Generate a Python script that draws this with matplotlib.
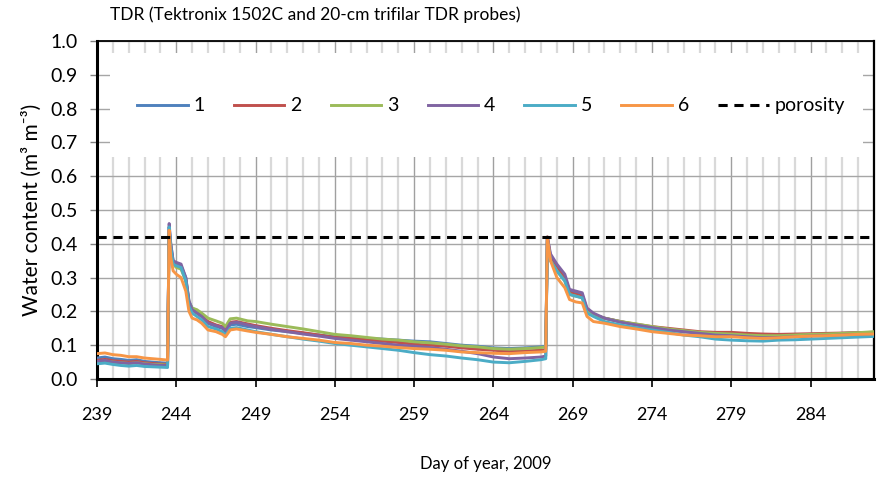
import matplotlib
matplotlib.use("Agg")
import matplotlib.pyplot as plt
from matplotlib.patches import Rectangle
from matplotlib.ticker import MultipleLocator, FormatStrFormatter

plt.rcParams['font.family'] = ['Lato', 'DejaVu Sans']

# day of year (same sampling for all probes)
day = [239.0, 239.5, 240.0, 240.5, 241.0, 241.5, 242.0, 242.5, 243.0, 243.45,
       243.55, 243.65, 243.8, 244.0, 244.3, 244.6, 244.8, 245.0, 245.3, 245.6,
       246.0, 246.5, 246.9, 247.1, 247.4, 247.8, 248.5, 249.0, 250.0, 251.0,
       252.0, 253.0, 254.0, 255.0, 256.0, 257.0, 258.0, 259.0, 260.0, 261.0,
       262.0, 263.0, 264.0, 265.0, 266.0, 267.0, 267.3,
       267.4, 267.6, 268.0, 268.5, 268.8, 269.2, 269.6, 269.9, 270.3, 271.0,
       272.0, 273.0, 274.0, 275.0, 276.0, 277.0, 278.0, 279.0, 280.0, 281.0,
       282.0, 283.0, 284.0, 285.0, 286.0, 287.0, 288.0]

probe1 = [.062, .065, .060, .058, .055, .057, .052, .050, .048, .047,
          .45, .40, .35, .34, .335, .30, .23, .21, .20, .19,
          .165, .155, .15, .14, .16, .162, .155, .152, .145, .14,
          .135, .13, .125, .123, .12, .118, .115, .112, .11, .105,
          .10, .097, .092, .09, .092, .095, .097,
          .42, .36, .33, .30, .26, .255, .25, .205, .19, .18,
          .17, .16, .152, .145, .14, .135, .133, .13, .13, .128,
          .128, .13, .132, .133, .135, .137, .138]

probe2 = [.055, .058, .054, .052, .050, .052, .048, .046, .044, .043,
          .44, .39, .345, .335, .33, .295, .225, .205, .195, .185,
          .17, .16, .155, .145, .168, .17, .163, .158, .15, .143,
          .137, .13, .123, .12, .116, .112, .108, .103, .10, .097,
          .092, .088, .085, .082, .083, .085, .087,
          .42, .36, .33, .30, .255, .25, .245, .20, .19, .18,
          .17, .162, .155, .15, .145, .14, .138, .138, .135, .133,
          .132, .133, .134, .135, .136, .137, .138]

probe3 = [.050, .053, .050, .048, .046, .048, .045, .043, .042, .041,
          .43, .38, .34, .33, .325, .29, .225, .21, .205, .195,
          .18, .172, .165, .155, .178, .18, .172, .17, .162, .155,
          .148, .14, .132, .128, .123, .118, .115, .11, .107, .103,
          .098, .095, .09, .088, .09, .093, .095,
          .41, .35, .32, .29, .25, .245, .24, .20, .19, .18,
          .17, .163, .155, .148, .143, .138, .135, .133, .13, .128,
          .128, .13, .132, .133, .135, .137, .14]

probe4 = [.052, .055, .050, .048, .046, .048, .044, .042, .040, .040,
          .46, .40, .35, .345, .34, .30, .23, .205, .195, .185,
          .165, .158, .152, .142, .165, .168, .16, .155, .147, .14,
          .133, .127, .12, .115, .11, .105, .10, .097, .093, .088,
          .082, .075, .065, .06, .062, .065, .068,
          .42, .37, .34, .31, .265, .26, .255, .21, .195, .18,
          .168, .16, .152, .145, .14, .135, .13, .128, .125, .122,
          .123, .125, .127, .128, .13, .131, .132]

probe5 = [.045, .047, .043, .040, .038, .040, .037, .036, .035, .034,
          .45, .39, .34, .335, .33, .29, .215, .195, .185, .175,
          .155, .148, .14, .13, .15, .152, .145, .14, .132, .125,
          .118, .112, .105, .10, .095, .09, .085, .078, .072, .068,
          .062, .057, .05, .048, .052, .057, .06,
          .41, .35, .32, .29, .25, .245, .24, .195, .185, .17,
          .16, .152, .145, .138, .13, .125, .118, .115, .113, .112,
          .115, .116, .118, .12, .122, .124, .126]

probe6 = [.075, .077, .072, .070, .066, .066, .062, .060, .058, .056,
          .44, .36, .32, .31, .30, .26, .20, .18, .175, .165,
          .145, .14, .132, .125, .145, .148, .142, .138, .132, .125,
          .12, .115, .108, .105, .10, .097, .093, .09, .088, .085,
          .08, .078, .076, .075, .078, .08, .082,
          .42, .35, .30, .27, .235, .228, .225, .185, .17, .165,
          .155, .148, .14, .135, .13, .128, .125, .125, .122, .12,
          .122, .125, .127, .128, .13, .132, .133]

probes = [probe1, probe2, probe3, probe4, probe5, probe6]
labels = ["1", "2", "3", "4", "5", "6"]
colors = ["#4F81BD", "#C0504D", "#9BBB59", "#8064A2", "#4BACC6", "#F79646"]
porosity = 0.42
major_days = [239, 244, 249, 254, 259, 264, 269, 274, 279, 284]

fig = plt.figure(figsize=(8.77, 4.86), dpi=100)
ax = fig.add_axes([0.1106, 0.2202, 0.886, 0.6954])

for vals, lab, c in zip(probes, labels, colors):
    ax.plot(day, vals, color=c, lw=2.1, label=lab, zorder=3)
ax.axhline(porosity, color="black", lw=2.2, dashes=(3, 2.2), label="porosity", zorder=4)

ax.set_xlim(239, 288)
ax.set_ylim(0, 1.0)
ax.set_xticks(major_days)
ax.set_xticks(range(239, 289), minor=True)
ax.yaxis.set_major_locator(MultipleLocator(0.1))
ax.yaxis.set_major_formatter(FormatStrFormatter("%.1f"))

ax.set_axisbelow(True)
ax.grid(which="minor", axis="x", color="#D9D9D9", lw=1.6)
ax.grid(which="major", axis="x", color="#A0A0A0", lw=1.0)
ax.grid(which="major", axis="y", color="#A6A6A6", lw=1.0)

ax.tick_params(axis="x", which="major", direction="out", length=6, width=1.2,
               pad=14, labelsize=13)
ax.tick_params(axis="x", which="minor", length=0)
ax.tick_params(axis="y", direction="out", length=5, width=1.0, pad=9, labelsize=14,
               color="#808080")
ax.spines["left"].set_linewidth(2.2)
ax.spines["bottom"].set_linewidth(2.2)
ax.spines["top"].set_linewidth(1.3)
ax.spines["right"].set_linewidth(1.6)

# white legend area hiding the grid
ax.add_patch(Rectangle((0.0168, 0.657), 0.969, 0.307, transform=ax.transAxes,
                       facecolor="white", edgecolor="none", zorder=2))
ax.legend(loc="center", bbox_to_anchor=(0.507, 0.808), ncol=7, frameon=False,
          fontsize=14, handlelength=2.6, handletextpad=0.3, columnspacing=1.5)

ax.set_xlabel("Day of year, 2009", fontsize=12, labelpad=24)
ax.set_ylabel("Water content (m³ m⁻³)", fontsize=15, labelpad=6)
fig.text(110 / 877, 1 - 15 / 486, "TDR (Tektronix 1502C and 20-cm trifilar TDR probes)",
         fontsize=12.5, va="center", ha="left")

fig.savefig("out.png", dpi=100)
print("Wrote out.png")
